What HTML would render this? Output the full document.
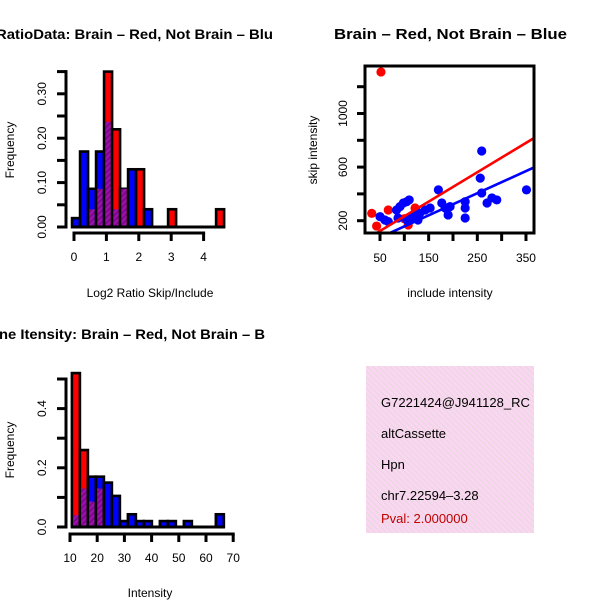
<!DOCTYPE html>
<html><head><meta charset="utf-8">
<style>
html,body{margin:0;padding:0;background:#fff;}
svg{display:block;font-family:"Liberation Sans",Arial,sans-serif;}
</style></head>
<body>
<svg id="chart" width="600" height="600" viewBox="0 0 600 600">
<defs>
  <pattern id="purp" width="4" height="4" patternUnits="userSpaceOnUse" patternTransform="rotate(45)">
    <rect width="4" height="4" fill="#a010b0"/>
    <rect width="2" height="4" fill="#7a0a8a"/>
  </pattern>
  <pattern id="pink" width="4" height="4" patternUnits="userSpaceOnUse" patternTransform="rotate(-45)">
    <rect width="4" height="4" fill="#fad6f2"/>
    <rect width="1" height="4" fill="#e6d8da"/>
  </pattern>
  <clipPath id="q1"><rect x="0" y="0" width="300" height="300"/></clipPath>
  <clipPath id="q3"><rect x="0" y="300" width="300" height="300"/></clipPath>
  <clipPath id="q4"><rect x="366" y="366" width="168" height="168"/></clipPath>
  <clipPath id="box2"><rect x="365" y="66" width="169" height="167"/></clipPath>
</defs>
<g id="p1"></g>
<g id="p2"></g>
<g id="p3"></g>
<g id="p4">
  <rect x="366" y="366" width="168" height="167" fill="url(#pink)"/>
  <g clip-path="url(#q4)" font-size="13">
    <text x="381" y="407">G7221424@J941128_RC</text>
    <text x="381" y="438">altCassette</text>
    <text x="381" y="469">Hpn</text>
    <text x="381" y="500">chr7.22594–3.28</text>
    <text x="381" y="523" fill="#c00000">Pval: 2.000000</text>
  </g>
</g>
</svg>
<script>
// ---- Panel 1 data: Log2 ratio histogram ----
const ratioBinStart = -0.06;
const ratioBinWidth = 0.247;
const ratioRed  = [0,0,0.04,0.086,0.35,0.22,0.086,0,0.13,0,0,0,0.04,0,0,0,0,0,0.04];
const ratioBlue = [0.02,0.17,0.086,0.17,0.237,0.04,0.086,0.13,0,0.04,0,0,0,0,0,0,0,0,0];
const ratioXTicks = [0,1,2,3,4];
const ratioYTicks = [0,0.05,0.1,0.15,0.2,0.25,0.3,0.35];
const ratioYLabels = ["0.00","0.10","0.20","0.30"];
const ratioYLabelVals = [0,0.1,0.2,0.3];

// ---- Panel 2 data: scatter ----
const blueX = [50,60,67,84,91,98,105,110,87,112,122,132,143,153,170,177,184,190,194,225,225,225,256,259,270,280,290,351,259,105,128];
const blueY = [230,205,193,280,305,332,342,355,220,220,243,257,280,295,430,332,295,243,305,342,295,220,518,407,332,370,355,430,720,205,205];
const redX = [33,67,43,108,122,52,100];
const redY = [255,280,160,168,295,1310,215];
const lineIntercept = [14,-7.5];   // red, blue
const lineSlope = [2.19,1.65];
const scatXTicks = [50,100,150,200,250,300,350];
const scatXLabels = ["50","150","250","350"];
const scatYTicks = [200,400,600,800,1000,1200];
const scatYLabels = ["200","600","1000"];

// ---- Panel 3 data: intensity histogram ----
const intBinStart = 10.7;
const intBinWidth = 2.94;
const intRed  = [0.52,0.26,0.086,0.13,0,0,0,0,0,0,0,0,0,0,0,0,0,0,0];
const intBlue = [0.04,0.13,0.17,0.17,0.15,0.105,0.02,0.043,0.02,0.02,0,0.02,0.02,0,0.02,0,0,0,0.043];
const intXTicks = [10,20,30,40,50,60,70];
const intYTicks = [0,0.1,0.2,0.3,0.4,0.5];
const intYLabels = ["0.0","0.2","0.4"];
const intYLabelVals = [0,0.2,0.4];

const NS = "http://www.w3.org/2000/svg";
function mk(tag, attrs, parent){
  const e = document.createElementNS(NS, tag);
  for (const k in attrs) e.setAttribute(k, attrs[k]);
  parent.appendChild(e);
  return e;
}

function histogram(g, o){
  const sx = v => o.x0 + (v - o.xv0) * o.xs;
  const sy = v => o.y0 - v * o.ys;
  const n = o.red.length;
  for (let i = 0; i < n; i++){
    const a = o.binStart + i*o.binWidth, b = a + o.binWidth;
    const r = o.red[i], bl = o.blue[i];
    const mx = Math.max(r, bl), mn = Math.min(r, bl);
    if (mx <= 0) continue;
    const col = r >= bl ? "#ff0000" : "#0000ff";
    const bar = mk("rect", {x: sx(a), y: sy(mx), width: sx(b)-sx(a), height: sy(0)-sy(mx), fill: col, stroke:"#000", "stroke-width":2.6}, g);
    
    
    if (mn > 0){
      const ov = mk("rect", {x: sx(a)+1.3, y: sy(mn), width: sx(b)-sx(a)-2.6, height: sy(0)-sy(mn)-1.3, fill:"url(#purp)"}, g);
      
      
    }
  }
  const base = mk("line", {x1: sx(o.binStart)-1, x2: sx(o.binStart + n*o.binWidth)+1, y1: sy(0), y2: sy(0), stroke:"#000", "stroke-width":3}, g);
  
  
  const ya = mk("g", {}, g);
  
  
  const yt = o.yTicks;
  mk("line", {x1: o.yAxisX, x2: o.yAxisX, y1: sy(yt[0])+1.5, y2: sy(yt[yt.length-1])-1.5, stroke:"#000", "stroke-width":3}, ya);
  yt.forEach(v => mk("line", {x1: o.yAxisX-9, x2: o.yAxisX, y1: sy(v), y2: sy(v), stroke:"#000", "stroke-width":3}, ya));
  o.yLabelVals.forEach((v,i) => {
    const t = mk("text", {x:0, y:0, "font-size":12, "text-anchor":"middle", transform:`translate(${o.yAxisX-20},${sy(v)}) rotate(-90)`}, ya);
    t.textContent = o.yLabels[i];
  });
  const xa = mk("g", {}, g);
  
  
  const xt = o.xTicks;
  mk("line", {x1: sx(xt[0])-1.5, x2: sx(xt[xt.length-1])+1.5, y1: o.xAxisY, y2: o.xAxisY, stroke:"#000", "stroke-width":3}, xa);
  xt.forEach(v => {
    mk("line", {x1: sx(v), x2: sx(v), y1: o.xAxisY, y2: o.xAxisY+8, stroke:"#000", "stroke-width":3}, xa);
    const t = mk("text", {x: sx(v), y: o.xAxisY+28, "font-size":12, "text-anchor":"middle"}, xa);
    t.textContent = String(v);
  });
}

// Panel 1
const g1 = document.getElementById("p1");
histogram(g1, {x0:74, xv0:0, xs:32.4, y0:227, ys:444, red:ratioRed, blue:ratioBlue,
  binStart:ratioBinStart, binWidth:ratioBinWidth, yTicks:ratioYTicks, yLabels:ratioYLabels, yLabelVals:ratioYLabelVals,
  yAxisX:66, xTicks:ratioXTicks, xAxisY:233});
let t;
t = mk("text", {x:-4, y:39, "font-size":14, "font-weight":"bold", textLength:277, lengthAdjust:"spacingAndGlyphs", "clip-path":"url(#q1)"}, g1);
t.textContent = "RatioData: Brain – Red, Not Brain – Blu";


t = mk("text", {x:150, y:297, "font-size":12, "text-anchor":"middle"}, g1);
t.textContent = "Log2 Ratio Skip/Include";


t = mk("text", {x:0, y:0, "font-size":12, "text-anchor":"middle", transform:"translate(14,150) rotate(-90)"}, g1);
t.textContent = "Frequency";



// Panel 2
const g2 = document.getElementById("p2");
const px = v => 380 + (v - 50) * (24.33/50);
const py = v => 220.7 - (v - 200) * (26.8/200);
const pts = mk("g", {"clip-path":"url(#box2)"}, g2);


redX.forEach((x,i) => {
  const c = mk("circle", {cx: px(x), cy: py(redY[i]), r:4.6, fill:"#ff0000"}, pts);
  
  
});
blueX.forEach((x,i) => {
  const c = mk("circle", {cx: px(x), cy: py(blueY[i]), r:4.6, fill:"#0000ff"}, pts);
  
  
});
["#ff0000","#0000ff"].forEach((col,i) => {
  const xa = 10, xb = 367;
  const l = mk("line", {x1: px(xa), y1: py(lineIntercept[i]+lineSlope[i]*xa), x2: px(xb), y2: py(lineIntercept[i]+lineSlope[i]*xb), stroke: col, "stroke-width":2.6}, pts);
  
  
});
const box = mk("rect", {x:365, y:66, width:169, height:167, fill:"none", stroke:"#000", "stroke-width":3}, g2);


scatXTicks.forEach(v => mk("line", {x1:px(v), x2:px(v), y1:233, y2:241, stroke:"#000", "stroke-width":3}, g2));
scatXLabels.forEach(s => {
  const tt = mk("text", {x: px(+s), y:262, "font-size":12, "text-anchor":"middle"}, g2);
  tt.textContent = s;
});
scatYTicks.forEach(v => mk("line", {x1:357, x2:365, y1:py(v), y2:py(v), stroke:"#000", "stroke-width":3}, g2));
scatYLabels.forEach(s => {
  const tt = mk("text", {x:0, y:0, "font-size":12, "text-anchor":"middle", transform:`translate(347,${py(+s)}) rotate(-90)`}, g2);
  tt.textContent = s;
});
t = mk("text", {x:334, y:39, "font-size":14.5, "font-weight":"bold", textLength:233, lengthAdjust:"spacingAndGlyphs"}, g2);
t.textContent = "Brain – Red, Not Brain – Blue";


t = mk("text", {x:450, y:297, "font-size":12, "text-anchor":"middle"}, g2);
t.textContent = "include intensity";


t = mk("text", {x:0, y:0, "font-size":12, "text-anchor":"middle", transform:"translate(317,150) rotate(-90)"}, g2);
t.textContent = "skip intensity";



// Panel 3
const g3 = document.getElementById("p3");
histogram(g3, {x0:70, xv0:10, xs:2.72, y0:527, ys:296, red:intRed, blue:intBlue,
  binStart:intBinStart, binWidth:intBinWidth, yTicks:intYTicks, yLabels:intYLabels, yLabelVals:intYLabelVals,
  yAxisX:66, xTicks:intXTicks, xAxisY:534});
t = mk("text", {x:-1, y:339, "font-size":14, "font-weight":"bold", textLength:266, lengthAdjust:"spacingAndGlyphs", "clip-path":"url(#q3)"}, g3);
t.textContent = "ne Itensity: Brain – Red, Not Brain – B";


t = mk("text", {x:150, y:597, "font-size":12, "text-anchor":"middle"}, g3);
t.textContent = "Intensity";


t = mk("text", {x:0, y:0, "font-size":12, "text-anchor":"middle", transform:"translate(14,450) rotate(-90)"}, g3);
t.textContent = "Frequency";


</script>
</body></html>
